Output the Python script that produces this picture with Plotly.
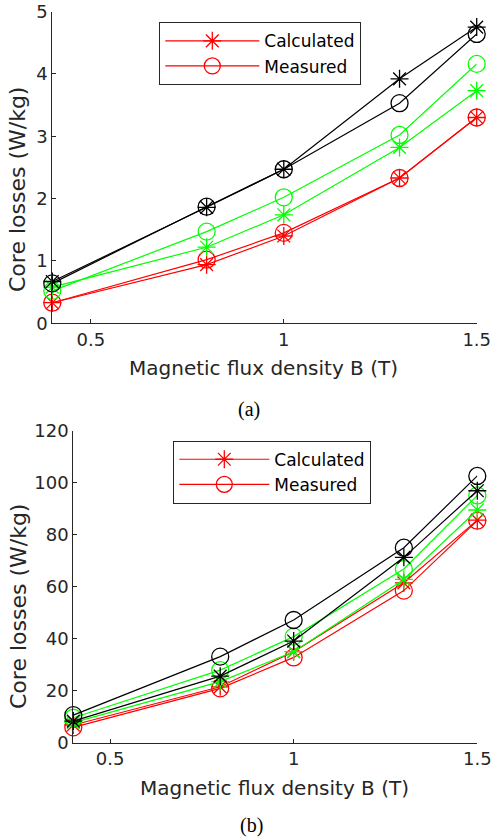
import plotly.graph_objects as go

B = [0.4, 0.8, 1.0, 1.3, 1.5]

# (a)
a_red_calc = [0.33, 0.94, 1.40, 2.33, 3.30]
a_red_meas = [0.33, 1.02, 1.45, 2.33, 3.30]
a_green_calc = [0.58, 1.22, 1.74, 2.82, 3.73]
a_green_meas = [0.52, 1.47, 2.02, 3.02, 4.16]
a_black_calc = [0.67, 1.86, 2.47, 3.92, 4.75]
a_black_meas = [0.64, 1.87, 2.47, 3.53, 4.64]

# (b)
b_red_calc = [6.8, 21.5, 35.0, 61.5, 85.6]
b_red_meas = [5.9, 20.9, 32.8, 58.5, 85.4]
b_green_calc = [7.7, 23.5, 35.0, 62.8, 89.5]
b_green_meas = [9.6, 27.9, 40.8, 66.8, 95.1]
b_black_calc = [8.3, 25.6, 39.1, 71.3, 96.9]
b_black_meas = [10.6, 33.1, 47.2, 75.0, 102.6]

x_ticks = [0.5, 1, 1.5]
x_ticktext = ["0.5", "1", "1.5"]
a_yticks = [0, 1, 2, 3, 4, 5]
b_yticks = [0, 20, 40, 60, 80, 100, 120]

W, H = 492, 838
AX = "#262626"
FONT = "DejaVu Sans, Liberation Sans, Arial, sans-serif"
SERIF = "Liberation Serif, Times New Roman, serif"

fig = go.Figure()

def add(x, y, color, sym, name, xa, ya, legend, show, group):
    fig.add_trace(go.Scatter(
        x=x, y=y, mode="lines+markers", name=name,
        xaxis=xa, yaxis=ya, legend=legend, showlegend=show,
        legendgroup=group,
        line=dict(color=color, width=1.2),
        marker=dict(symbol=sym, size=17 if sym == "circle-open" else 15,
                    color=color, line=dict(color=color, width=1.3)),
        cliponaxis=False,
    ))

for (yc, ym, color, show) in [
    (a_red_calc, a_red_meas, "#ff0000", True),
    (a_green_calc, a_green_meas, "#00ff00", False),
    (a_black_calc, a_black_meas, "#000000", False),
]:
    add(B, yc, color, "asterisk-open", "Calculated", "x", "y", "legend", show, "a_calc_" + color)
    add(B, ym, color, "circle-open", "Measured", "x", "y", "legend", show, "a_meas_" + color)

for (yc, ym, color, show) in [
    (b_red_calc, b_red_meas, "#ff0000", True),
    (b_green_calc, b_green_meas, "#00ff00", False),
    (b_black_calc, b_black_meas, "#000000", False),
]:
    add(B, yc, color, "asterisk-open", "Calculated", "x2", "y2", "legend2", show, "b_calc_" + color)
    add(B, ym, color, "circle-open", "Measured", "x2", "y2", "legend2", show, "b_meas_" + color)

def px_x(p):
    return p / W

def px_y(p):
    return 1 - p / H

axis_common = dict(
    showline=True, linecolor=AX, linewidth=1, mirror=False,
    ticks="inside", ticklen=4, tickcolor=AX, tickwidth=1,
    showgrid=False, zeroline=False, automargin=False,
    tickfont=dict(family=FONT, size=18, color=AX),
)

fig.update_layout(
    width=W, height=H,
    margin=dict(l=0, r=0, t=0, b=0),
    paper_bgcolor="white", plot_bgcolor="white",
    xaxis=dict(domain=[px_x(52.3), px_x(476.7)], range=[0.4, 1.5], anchor="y",
               tickvals=x_ticks, ticktext=x_ticktext, **axis_common),
    yaxis=dict(domain=[px_y(323.3), px_y(11.5)], range=[0, 5], anchor="x",
               tickvals=a_yticks, **axis_common),
    xaxis2=dict(domain=[px_x(73.3), px_x(477.3)], range=[0.4, 1.5], anchor="y2",
                tickvals=x_ticks, ticktext=x_ticktext, **axis_common),
    yaxis2=dict(domain=[px_y(742.7), px_y(430.7)], range=[0, 120], anchor="x2",
                tickvals=b_yticks, **axis_common),
    legend=dict(x=px_x(159.3), y=px_y(22.3), xanchor="left", yanchor="top",
                bgcolor="white", bordercolor=AX, borderwidth=1,
                font=dict(family=FONT, size=17, color="#000000"),
                itemwidth=94, tracegroupgap=0),
    legend2=dict(x=px_x(173.3), y=px_y(440.7), xanchor="left", yanchor="top",
                 bgcolor="white", bordercolor=AX, borderwidth=1,
                 font=dict(family=FONT, size=17, color="#000000"),
                 itemwidth=90, tracegroupgap=0),
    showlegend=True,
)

def label(text, x, y, size, family=FONT, color=AX, angle=0):
    return dict(text=text, x=px_x(x), y=px_y(y), xref="paper", yref="paper",
                xanchor="center", yanchor="middle", showarrow=False,
                textangle=angle, font=dict(family=family, size=size, color=color))

ann = [
    label("Magnetic flux density B (T)", 263.5, 368, 20),
    label("Magnetic flux density B (T)", 274, 787.7, 20),
    label("Core losses (W/kg)", 18, 190, 22, angle=-90),
    label("Core losses (W/kg)", 18, 607, 22, angle=-90),
    label("(a)", 249, 409, 20, family=SERIF, color="#000000"),
    label("(b)", 251, 825, 20, family=SERIF, color="#000000"),
]
fig.update_layout(annotations=ann)

fig.write_html("out.html")
